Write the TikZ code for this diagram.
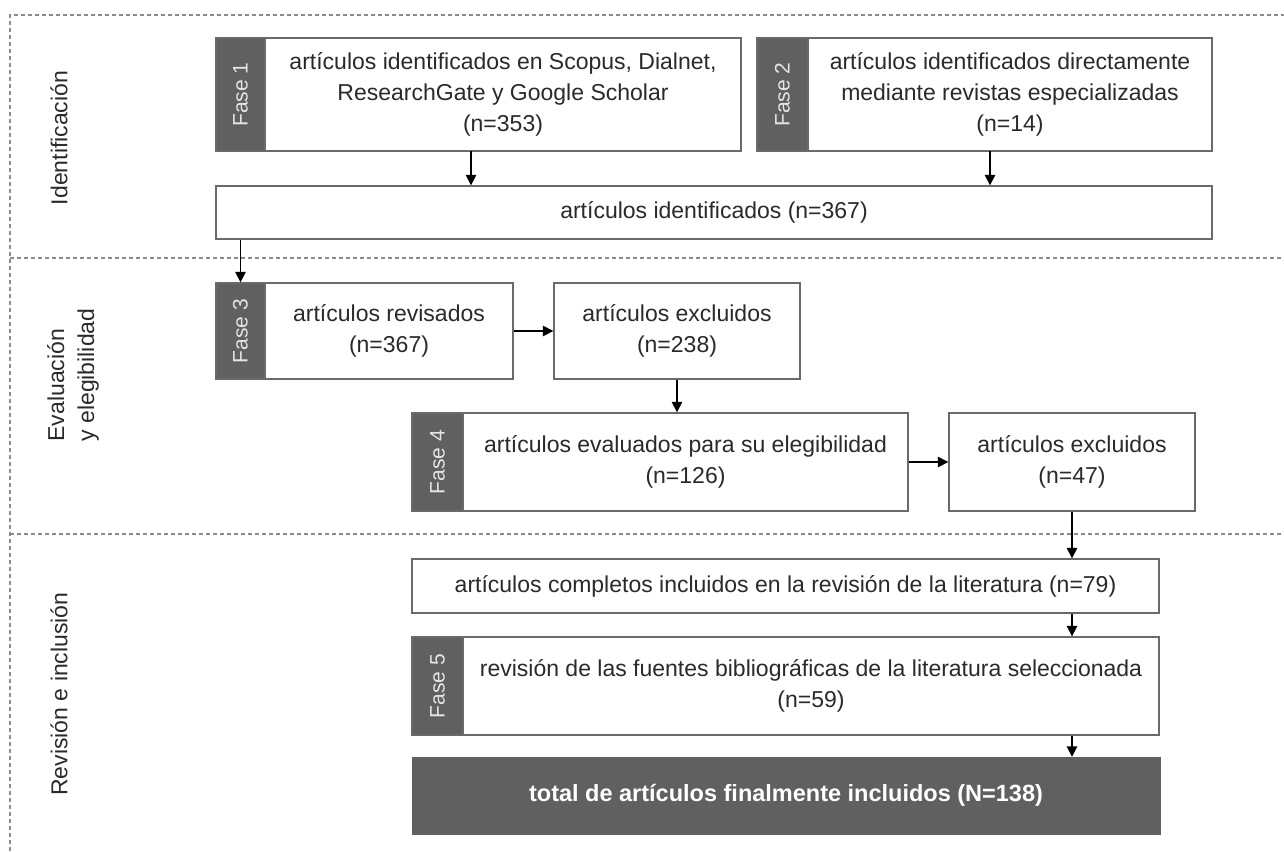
\documentclass[tikz,border=0pt]{standalone}
\usepackage{fontspec}
\setmainfont{Liberation Sans}
\usetikzlibrary{arrows.meta}
\definecolor{tabgray}{HTML}{606060}
\definecolor{edgegray}{HTML}{6A6A6A}
\definecolor{dashgray}{HTML}{8A8A8A}
\definecolor{txt}{HTML}{2A2A2A}
\tikzset{
  frame/.style={draw=dashgray, line width=1.3pt, dash pattern=on 4pt off 3pt},
  wbox/.style={draw=edgegray, line width=1.4pt, fill=white, text=txt, align=center, inner sep=0pt, font=\fontsize{23}{31}\selectfont},
  tab/.style={fill=tabgray, draw=edgegray, line width=1.4pt, inner sep=0pt},
  tabtext/.style={text=white!90!black, rotate=90, font=\fontsize{21}{24}\selectfont},
  lbl/.style={text=txt, rotate=90, align=left, font=\fontsize{23}{30}\selectfont},
  arr/.style={draw=black, line width=1.6pt, -{Triangle[length=10.5pt,width=10.5pt]}},
  final/.style={fill=tabgray, draw=tabgray, text=white, align=center, inner sep=0pt, font=\fontsize{23.5}{28}\selectfont\bfseries}
}
\begin{document}
\begin{tikzpicture}[x=1pt,y=-1pt]
\useasboundingbox (0,0) rectangle (1284,851);
% dashed frame
\draw[frame] (10,851) -- (10,15) -- (1284,15);
\draw[frame] (10,258) -- (1284,258);
\draw[frame] (10,534) -- (1284,534);
% section labels
\node[lbl] (s1) at (59,138) {Identificación};
\node[lbl, anchor=west] (s2) at (73,445) {Evaluación\\y elegibilidad};
\node[lbl] (s3) at (59,694) {Revisión e inclusión};
% Fase 1
\node[tab, minimum width=49pt, minimum height=113pt] (t1) at (240.5,94.5) {};
\node[tabtext] at (t1) {Fase 1};
\node[wbox, minimum width=476pt, minimum height=113pt] (b1) at (503,94.5) {artículos identificados en Scopus, Dialnet,\\ResearchGate y Google Scholar\\(n=353)};
% Fase 2
\node[tab, minimum width=51pt, minimum height=113pt] (t2) at (782.5,94.5) {};
\node[tabtext] at (t2) {Fase 2};
\node[wbox, minimum width=404pt, minimum height=113pt] (b2) at (1010,94.5) {artículos identificados directamente\\mediante revistas especializadas\\(n=14)};
% wide box
\node[wbox, minimum width=996pt, minimum height=53pt] (w) at (714,212.5) {artículos identificados (n=367)};
% Fase 3
\node[tab, minimum width=49pt, minimum height=96pt] (t3) at (240.5,331) {};
\node[tabtext] at (t3) {Fase 3};
\node[wbox, minimum width=248pt, minimum height=96pt] (b3) at (389,331) {artículos revisados\\(n=367)};
\node[wbox, minimum width=246pt, minimum height=96pt] (e1) at (677,331) {artículos excluidos\\(n=238)};
% Fase 4
\node[tab, minimum width=51pt, minimum height=98pt] (t4) at (437.5,462) {};
\node[tabtext] at (t4) {Fase 4};
\node[wbox, minimum width=445pt, minimum height=98pt] (b4) at (685.5,462) {artículos evaluados para su elegibilidad\\(n=126)};
\node[wbox, minimum width=246pt, minimum height=98pt] (e2) at (1072,462) {artículos excluidos\\(n=47)};
% completos
\node[wbox, minimum width=747pt, minimum height=54pt] (c) at (785.5,586) {artículos completos incluidos en la revisión de la literatura (n=79)};
% Fase 5
\node[tab, minimum width=51pt, minimum height=98pt] (t5) at (437.5,686) {};
\node[tabtext] at (t5) {Fase 5};
\node[wbox, minimum width=696pt, minimum height=98pt] (b5) at (811,686) {revisión de las fuentes bibliográficas de la literatura seleccionada\\(n=59)};
% final
\node[final, minimum width=748pt, minimum height=77pt] (f) at (786,795.5) {total de artículos finalmente incluidos (N=138)};
% arrows
\draw[arr] (471,151) coordinate (a1) -- (a1 |- w.north);
\draw[arr] (990,151) coordinate (a2) -- (a2 |- w.north);
\draw[arr] (t3 |- w.south) -- (t3.north);
\draw[arr] (b3.east) -- (e1.west);
\draw[arr] (e1.south) -- (e1.south |- b4.north);
\draw[arr] (b4.east) -- (e2.west);
\draw[arr] (e2.south) -- (e2.south |- c.north);
\draw[arr] (e2.south |- c.south) -- (e2.south |- b5.north);
\draw[arr] (e2.south |- b5.south) -- (e2.south |- f.north);
\end{tikzpicture}
\end{document}
